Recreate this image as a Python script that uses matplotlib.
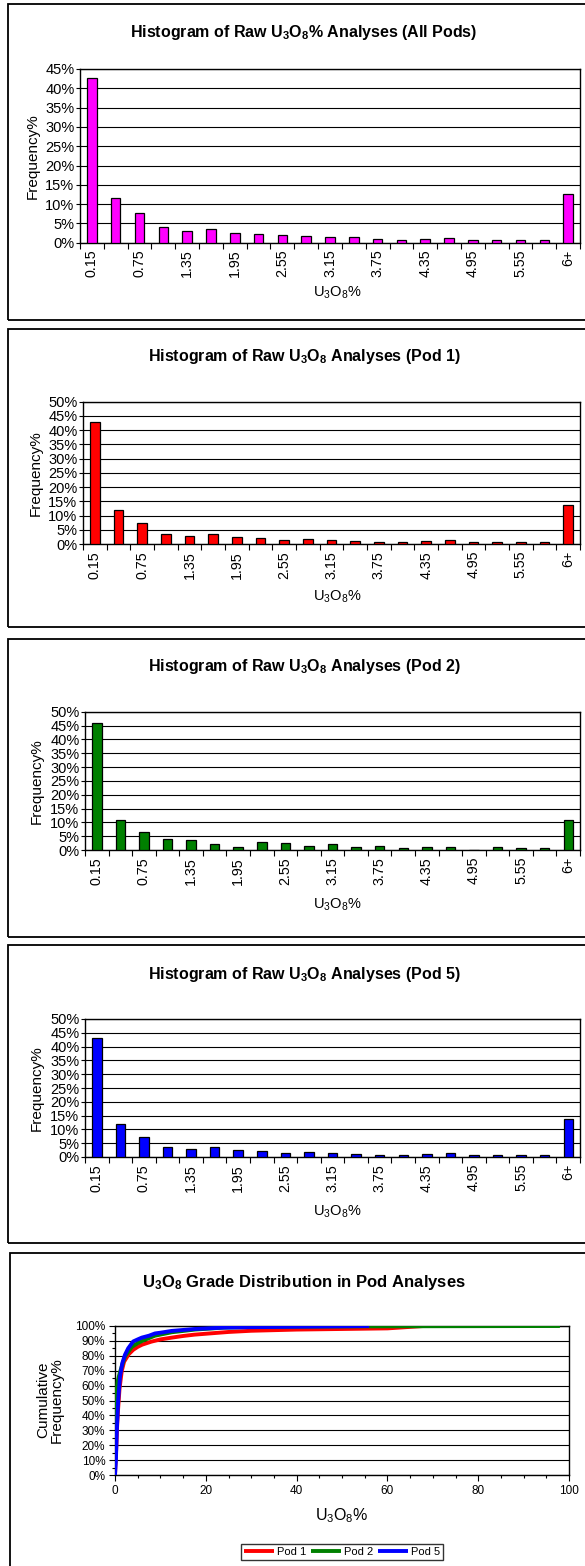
import numpy as np
import matplotlib
matplotlib.use('Agg')
import matplotlib.pyplot as plt
from matplotlib.patches import Rectangle
from matplotlib.ticker import MultipleLocator, FuncFormatter

plt.rcParams['font.family'] = ['Liberation Sans', 'DejaVu Sans']
plt.rcParams['mathtext.fontset'] = 'custom'
plt.rcParams['mathtext.rm'] = 'Liberation Sans'
plt.rcParams['mathtext.it'] = 'Liberation Sans'
plt.rcParams['mathtext.bf'] = 'Liberation Sans:bold'

# grade bins (U3O8 %), last bin is everything from 6 up
bins = ['0.15', '0.45', '0.75', '1.05', '1.35', '1.65', '1.95', '2.25', '2.55',
        '2.85', '3.15', '3.45', '3.75', '4.05', '4.35', '4.65', '4.95', '5.25',
        '5.55', '5.85', '6+']

# frequency % per bin
freq_all = [42.6, 11.5, 7.7, 4.1, 3.1, 3.5, 2.4, 2.3, 2.0, 1.8, 1.5, 1.4, 1.0,
            0.7, 1.0, 1.1, 0.8, 0.8, 0.8, 0.6, 12.5]
freq_pod1 = [42.8, 11.8, 7.5, 3.5, 2.9, 3.4, 2.5, 2.1, 1.3, 1.9, 1.3, 1.0, 0.7,
             0.6, 0.9, 1.3, 0.8, 0.6, 0.8, 0.6, 13.7]
freq_pod2 = [45.8, 10.9, 6.4, 4.0, 3.5, 2.3, 1.2, 2.8, 2.5, 1.4, 2.2, 1.2, 1.4,
             0.8, 1.2, 1.0, 0.0, 1.0, 0.6, 0.6, 10.9]
freq_pod5 = [43.0, 12.0, 7.4, 3.5, 3.0, 3.5, 2.4, 2.3, 1.4, 1.9, 1.4, 1.2, 0.7,
             0.6, 1.1, 1.4, 0.7, 0.6, 0.7, 0.6, 13.8]

# cumulative frequency curves (U3O8 %, cumulative %)
pod1_x = [0, 0.3, 0.5, 0.7, 1.0, 1.5, 2.0, 3.0, 4.0, 5.0, 6.0, 8.0, 10, 12.5,
          15, 17.5, 20, 25, 30, 40, 50, 60, 68]
pod1_y = [0, 20, 35, 45, 58, 70, 76, 81, 84, 86, 87.5, 89.5, 91, 92.2,
          93.3, 94.2, 94.8, 96, 96.8, 97.6, 98, 98.4, 100]
pod2_x = [0, 0.1, 0.3, 0.6, 1.0, 1.5, 2.2, 3.0, 3.7, 5.0, 6.0, 8.8, 12.5,
          17.6, 24, 30, 40, 60, 80, 98]
pod2_y = [0, 45, 55, 63, 68, 73, 79.6, 83, 86, 88.5, 90, 93.5, 95.8,
          97.6, 98.9, 99.4, 99.6, 99.8, 99.9, 100]
pod5_x = [0, 0.2, 0.4, 0.7, 1.1, 1.6, 2.2, 2.9, 4.0, 5.0, 5.9, 7.5, 8.8, 10,
          12.5, 17.6, 23.8, 30, 40, 50, 56]
pod5_y = [0, 10, 30, 50, 66, 75, 80.7, 85, 89.6, 91, 92.2, 93.5, 95, 95.5,
          96.7, 98, 98.9, 99.2, 99.5, 99.8, 100]

W, H = 585, 1566
fig = plt.figure(figsize=(W / 100, H / 100), dpi=100)

U3O8 = 'U$_3$O$_8$%'
U3O8_BF = r'U$_\mathbf{3}$O$_\mathbf{8}$'


def box(l, t, r, b):
    return [l / W, 1 - b / H, (r - l) / W, (b - t) / H]


def fx(x):
    return x / W


def fy(y):
    return 1 - y / H


def frame(t, b, l=8):
    fig.patches.append(Rectangle((fx(l), fy(b)), fx(620 - l), fy(t) - fy(b),
                                 transform=fig.transFigure, fill=False,
                                 edgecolor='black', linewidth=1.3))


pct = FuncFormatter(lambda v, p: '%d%%' % round(v))


def histogram(freq, color, title, ymax, ax_box, title_y, ylab_x, xlab_y):
    ax = fig.add_axes(box(*ax_box))
    x = np.arange(len(bins))
    ax.bar(x, freq, width=0.4, color=color, edgecolor='black', linewidth=0.9,
           zorder=3)
    ax.set_xlim(-0.5, len(bins) - 0.5)
    ax.set_ylim(0, ymax)
    ax.yaxis.set_major_locator(MultipleLocator(5))
    ax.yaxis.set_major_formatter(pct)
    ax.grid(axis='y', color='black', linewidth=0.8, zorder=0)
    # tick marks between categories, labels on every other bin
    ax.set_xticks(np.arange(-0.5, len(bins), 1))
    ax.set_xticklabels([])
    ax.set_xticks(x[::2], minor=True)
    ax.set_xticklabels(bins[::2], minor=True, rotation=90, fontsize=10.3)
    ax.tick_params(axis='x', which='major', direction='out', length=4, width=0.8)
    ax.tick_params(axis='x', which='minor', length=0, pad=5)
    ax.tick_params(axis='y', direction='out', length=3, width=0.8,
                   labelsize=10.5, pad=1)
    for s in ax.spines.values():
        s.set_linewidth(1.0)
    l, t, r, b = ax_box
    fig.text(fx(304), fy(title_y), title, ha='center', va='center',
             fontsize=11.5, fontweight='bold')
    fig.text(fx(ylab_x), fy((t + b) / 2), 'Frequency%', rotation=90,
             ha='center', va='center', fontsize=11)
    fig.text(fx(337), fy(xlab_y), U3O8, ha='center', va='center',
             fontsize=10.5)
    return ax


frame(4, 320)
histogram(freq_all, '#FF00FF',
          'Histogram of Raw ' + U3O8_BF + '% Analyses (All Pods)', 45,
          (80, 69, 580, 242.7), 32, 33, 293)
frame(329, 627)
histogram(freq_pod1, '#FF0000',
          'Histogram of Raw ' + U3O8_BF + ' Analyses (Pod 1)', 50,
          (83, 401.7, 580, 544), 357, 36, 597)
frame(639, 937)
histogram(freq_pod2, '#008000',
          'Histogram of Raw ' + U3O8_BF + ' Analyses (Pod 2)', 50,
          (85, 711.7, 580, 850), 667, 37, 905)
frame(945, 1243)
histogram(freq_pod5, '#0000FF',
          'Histogram of Raw ' + U3O8_BF + ' Analyses (Pod 5)', 50,
          (85, 1019, 580, 1157), 975, 37, 1212)

# cumulative grade distribution
frame(1253, 1600, l=10)
ax = fig.add_axes(box(115, 1326, 569, 1475))
ax.plot(pod1_x, pod1_y, color='#FF0000', linewidth=2.8, label='Pod 1',
        solid_capstyle='butt', zorder=3)
ax.plot(pod2_x, pod2_y, color='#008000', linewidth=2.8, label='Pod 2',
        solid_capstyle='butt', zorder=3)
ax.plot(pod5_x, pod5_y, color='#0000FF', linewidth=2.8, label='Pod 5',
        solid_capstyle='butt', zorder=4)
ax.set_xlim(0, 100)
ax.set_ylim(0, 100)
ax.xaxis.set_major_locator(MultipleLocator(20))
ax.xaxis.set_minor_locator(MultipleLocator(5))
ax.yaxis.set_major_locator(MultipleLocator(10))
ax.yaxis.set_minor_locator(MultipleLocator(5))
ax.yaxis.set_major_formatter(pct)
ax.grid(axis='y', which='major', color='black', linewidth=0.8, zorder=0)
ax.tick_params(which='major', direction='out', length=4, width=0.8,
               labelsize=8.5, pad=3)
ax.tick_params(which='minor', direction='out', length=2.5, width=0.8)
for s in ax.spines.values():
    s.set_linewidth(1.0)

fig.text(fx(304), fy(1282), U3O8_BF + ' Grade Distribution in Pod Analyses',
         ha='center', va='center', fontsize=12, fontweight='bold')
fig.text(fx(50), fy(1400), 'Cumulative\nFrequency%', rotation=90,
         ha='center', va='center', fontsize=11, linespacing=1.0)
fig.text(fx(342), fy(1516), U3O8, ha='center', va='center', fontsize=11.5)
fig.legend(loc='center', bbox_to_anchor=(fx(342), fy(1552)), ncol=3,
           fontsize=8, frameon=True, fancybox=False, edgecolor='black',
           handlelength=2.7, handletextpad=0.2, columnspacing=0.5,
           borderpad=0.3, borderaxespad=0)

fig.savefig('out.png', dpi=100)
